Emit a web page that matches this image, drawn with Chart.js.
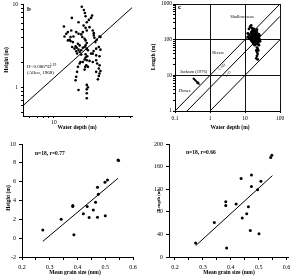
<!DOCTYPE html>
<html>
<head>
<meta charset="utf-8">
<script src="https://cdn.jsdelivr.net/npm/chart.js@4.4.1/dist/chart.umd.min.js"></script>
<style>
  html, body { margin: 0; padding: 0; background: #fff; }
  #wrap { position: relative; width: 294px; height: 277px; }
  canvas { position: absolute; }
</style>
</head>
<body>
<div id="wrap">
  <canvas id="panelB" width="147" height="140" style="left:0;top:0"></canvas>
  <canvas id="panelC" width="147" height="140" style="left:147px;top:0"></canvas>
  <canvas id="panelHeight" width="147" height="137" style="left:0;top:140px"></canvas>
  <canvas id="panelLength" width="147" height="137" style="left:147px;top:140px"></canvas>
</div>
<script>
// panel b : dune height vs water depth (log-log)
const bDepth = [18.0,18.8,19.2,19.5,22.4,21.9,20.9,20.0,14.6,16.8,
  18.7,19.5,21.2,12.35,20.0,18.4,17.8,14.4,13.43,16.0,
  16.8,22.7,23.2,12.97,12.5,14.2,15.1,13.9,13.43,18.2,
  19.1,19.5,20.0,23.2,23.5,24.7,24.0,26.2,26.7,14.9,
  14.2,16.6,17.2,15.8,16.2,15.45,14.7,16.8,17.8,17.2,
  18.4,19.1,19.5,20.0,20.5,16.0,16.3,17.8,19.5,20.2,
  21.9,23.1,24.4,25.8,26.7,22.7,24.4,26.2,19.5,19.1,
  18.4,20.0,21.2,17.5,17.2,19.8,20.5,22.7,24.4,24.9,
  26.2,25.8,26.7,26.2,25.8,25.3,24.4,16.6,16.3,16.0,
  15.8,19.35,19.1,20.0,20.5,20.0,20.0,20.0,16.8];
const bHeight = [9.46,8.63,7.94,7.24,7.38,6.92,6.55,6.14,6.92,6.14,
  5.6,5.25,5.35,5.45,4.88,4.66,4.37,4.88,4.66,4.66,
  4.45,4.88,4.53,4.45,4.13,4.06,4.13,3.77,3.70,4.06,
  3.87,3.70,3.44,4.25,3.98,3.77,3.53,4.13,4.06,3.53,
  3.63,3.37,3.22,3.13,3.02,2.94,3.08,2.86,2.81,2.68,
  3.02,3.08,3.22,2.94,2.81,2.73,2.56,2.49,2.51,2.38,
  2.56,2.75,2.94,3.08,2.86,2.56,2.44,2.38,2.29,2.17,
  2.03,2.13,2.09,2.03,1.94,1.85,1.77,2.03,2.13,1.94,
  1.85,1.69,1.58,1.47,1.37,1.25,1.54,1.77,1.54,1.34,
  1.22,1.77,1.64,1.07,1.0,0.946,0.847,0.738,0.929];
const allenDepth = [5.2, 52];
const allenHeight = [0.6, 9.2];
const bDepthTicks = [6, 7, 8, 9, 10, 20, 30, 40, 50];
const bDepthLabels = [10];
const bHeightTicks = [0.5, 0.6, 0.7, 0.8, 0.9, 1, 2, 3, 4, 5, 6, 7, 8, 9, 10];
const bHeightLabels = [1, 10];

// panel c : bedform length vs water depth
const shallowDepth = [13,14,15,16,17,18,15,16,13,14,
  15,16,17,18,19,20,21,22,14,15,
  16,17,18,19,20,21,22,23,24,25,
  26,24,23,22,21,20,19,18,17,16,
  19,20,21,22,18,17,16,19,18,17,
  20,21,23,24,25,22,23,21,22,23,
  22,21,23,24,12,12,13,26,25,27,
  20,18,22];
const shallowLength = [200,230,250,210,190,170,160,150,140,130,
  120,110,100,95,90,85,80,75,105,95,
  88,80,75,70,110,120,130,140,120,110,
  100,95,88,100,105,130,140,150,160,175,
  160,150,145,160,120,130,135,110,105,115,
  95,92,110,80,70,60,55,50,45,40,
  35,30,28,50,150,120,110,130,140,90,
  180,200,190];
const upperLineDepth = [0.1, 100], upperLineLength = [1, 1000];
const midLineDepth = [0.22, 100], midLineLength = [1, 450];
const lowerLineDepth = [1, 100], lowerLineLength = [1, 100];
const cDepthTicks = [0.1, 1, 10, 100];
const cLengthTicks = [1,2,3,4,5,6,7,8,9,10,20,30,40,50,60,70,80,90,100,200,300,400,500,600,700,800,900,1000];
const cLengthLabels = [1, 10, 100, 1000];

// bottom panels : height / length vs mean grain size
const hGrain = [0.275,0.341,0.383,0.383,0.387,0.421,0.435,0.442,0.457,0.465,0.472,0.475,0.472,0.500,0.499,0.508,0.546,0.548];
const hHeight = [0.86,2.0,3.47,3.36,0.36,2.59,3.36,2.2,2.98,3.82,5.41,4.67,2.23,2.38,5.94,6.19,8.31,8.24];
const hFitGrain = [0.275, 0.546], hFitHeight = [-0.34, 6.36];
const lGrain = [0.274,0.341,0.382,0.382,0.385,0.419,0.437,0.441,0.457,0.463,0.474,0.474,0.470,0.501,0.496,0.508,0.543,0.547];
const lLength = [24.7,61,98,91,16,94,139,69,76.5,89,145,125,47,41,119,134,176,180];
const lFitGrain = [0.274, 0.549], lFitLength = [20, 144];
const grainTicks = [0.2,0.25,0.3,0.35,0.4,0.45,0.5,0.55,0.6];
const grainLabels = [0.2,0.3,0.4,0.5,0.6];
const heightTicks = [-2,0,2,4,6,8,10];
const lengthTicks = [0,40,80,120,160,200];

const serif = "'Liberation Serif', 'Times New Roman', serif";
const pts = (xs, ys) => xs.map((x, i) => ({ x: x, y: ys[i] }));

// draws the free text, axis titles and arrow on top of a chart
const notes = {
  id: 'notes',
  afterDraw(chart, args, opts) {
    const ctx = chart.ctx;
    (opts.items || []).forEach(t => {
      ctx.save();
      ctx.fillStyle = '#000';
      ctx.strokeStyle = '#000';
      if (t.arrow) {
        const [x0, y0, x1, y1] = t.arrow;
        const a = Math.atan2(y1 - y0, x1 - x0);
        ctx.lineWidth = 1.8;
        ctx.beginPath();
        ctx.moveTo(x0, y0);
        ctx.lineTo(x1 - 3 * Math.cos(a), y1 - 3 * Math.sin(a));
        ctx.stroke();
        ctx.beginPath();
        ctx.moveTo(x1, y1);
        ctx.lineTo(x1 - 4 * Math.cos(a - 0.5), y1 - 4 * Math.sin(a - 0.5));
        ctx.lineTo(x1 - 4 * Math.cos(a + 0.5), y1 - 4 * Math.sin(a + 0.5));
        ctx.closePath();
        ctx.fill();
      } else {
        ctx.font = t.font;
        ctx.textAlign = t.align || 'left';
        ctx.textBaseline = 'middle';
        ctx.translate(t.x, t.y);
        if (t.rot) ctx.rotate(t.rot);
        ctx.fillText(t.text, 0, 0);
      }
      ctx.restore();
    });
  }
};

function axis(o) {
  return {
    type: o.type || 'linear',
    min: o.min,
    max: o.max,
    afterBuildTicks: s => { s.ticks = o.ticks.map(v => ({ value: v })); },
    afterFit: s => {
      if (o.width !== undefined) { s.width = o.width; s.paddingTop = 0; s.paddingBottom = 0; }
      if (o.height !== undefined) { s.height = o.height; s.paddingLeft = 0; s.paddingRight = 0; }
    },
    border: { display: true, color: '#000', width: 1 },
    grid: {
      drawOnChartArea: !!o.gridAt,
      color: o.gridAt ? (c => (c.tick && o.gridAt.includes(c.tick.value)) ? '#111' : 'rgba(0,0,0,0)') : '#000',
      tickColor: '#000',
      tickLength: o.tickLength || 3,
      lineWidth: 1
    },
    ticks: {
      font: { family: serif, size: o.fontSize || 6 },
      color: '#000',
      padding: o.pad,
      autoSkip: false,
      maxRotation: 0,
      minRotation: 0,
      callback: v => o.labels.includes(v) ? (o.fmt ? o.fmt(v) : String(v)) : ''
    }
  };
}

function dots(data, r) {
  return { data: data, showLine: false, pointRadius: r, pointBackgroundColor: '#000', pointBorderWidth: 0 };
}
function rule(data) {
  return { data: data, showLine: true, borderColor: '#000', borderWidth: 1, pointRadius: 0 };
}

function panel(id, datasets, scales, padding, items) {
  return new Chart(document.getElementById(id), {
    type: 'scatter',
    data: { datasets: datasets },
    options: {
      responsive: false,
      animation: false,
      devicePixelRatio: 1,
      layout: { padding: padding },
      plugins: { legend: { display: false }, tooltip: { enabled: false }, notes: { items: items } },
      scales: scales
    },
    plugins: [notes]
  });
}

panel('panelB',
  [dots(pts(bDepth, bHeight), 1.3), rule(pts(allenDepth, allenHeight))],
  {
    x: axis({ type: 'logarithmic', min: 5.2, max: 52, ticks: bDepthTicks, labels: bDepthLabels, height: 24, tickLength: 2, pad: 1, fontSize: 5.5 }),
    y: axis({ type: 'logarithmic', min: 0.45, max: 10.2, ticks: bHeightTicks, labels: bHeightLabels, width: 23, tickLength: 2, pad: 3, fontSize: 5.5 })
  },
  { left: 0, right: 15, top: 3, bottom: 0 },
  [
    { text: 'b', x: 27, y: 9, font: 'bold 7px ' + serif },
    { text: 'H=0.086*D', x: 27, y: 67, font: '5px ' + serif },
    { text: '1.19', x: 50, y: 65, font: '3.5px ' + serif },
    { text: '(Allen, 1968)', x: 27, y: 73, font: '5px ' + serif },
    { text: 'Height (m)', x: 7, y: 60, rot: -Math.PI / 2, align: 'center', font: 'bold 5.5px ' + serif },
    { text: 'Water depth (m)', x: 77, y: 128, align: 'center', font: 'bold 5.5px ' + serif }
  ]);

panel('panelC',
  [rule(pts(upperLineDepth, upperLineLength)), rule(pts(midLineDepth, midLineLength)),
   rule(pts(lowerLineDepth, lowerLineLength)), dots(pts(shallowDepth, shallowLength), 1.4)],
  {
    x: axis({ type: 'logarithmic', min: 0.1, max: 100, ticks: cDepthTicks, labels: cDepthTicks, gridAt: cDepthTicks, height: 29, tickLength: 2, pad: 2, fontSize: 5.5 }),
    y: axis({ type: 'logarithmic', min: 1, max: 1000, ticks: cLengthTicks, labels: cLengthLabels, gridAt: cLengthLabels, width: 28, tickLength: 2, pad: 1, fontSize: 5.5 })
  },
  { left: 0, right: 14, top: 3, bottom: 0 },
  [
    { text: 'c', x: 31, y: 7, font: 'bold 7px ' + serif },
    { text: 'Shallow seas', x: 95, y: 17, align: 'center', font: '4.5px ' + serif },
    { text: 'Rivers', x: 71, y: 53, align: 'center', font: '4.5px ' + serif },
    { text: 'Jackson (1976)', x: 33, y: 72, font: '4.5px ' + serif },
    { text: 'Dunes', x: 32, y: 91, font: '4.5px ' + serif },
    { text: 'L=6D', x: 75, y: 67, rot: -Math.PI / 4, align: 'center', font: '3.5px ' + serif },
    { text: 'L=D', x: 81, y: 74, rot: -Math.PI / 4, align: 'center', font: '3.5px ' + serif },
    { arrow: [46, 78, 53, 85] },
    { text: 'Length (m)', x: 7, y: 57, rot: -Math.PI / 2, align: 'center', font: 'bold 5.5px ' + serif },
    { text: 'Water depth (m)', x: 83, y: 128, align: 'center', font: 'bold 5.5px ' + serif }
  ]);

panel('panelHeight',
  [dots(pts(hGrain, hHeight), 1.5), rule(pts(hFitGrain, hFitHeight))],
  {
    x: axis({ min: 0.2, max: 0.6, ticks: grainTicks, labels: grainLabels, fmt: v => v.toFixed(1), height: 20, tickLength: 3, pad: 4 }),
    y: axis({ min: -2, max: 10, ticks: heightTicks, labels: heightTicks, width: 22, tickLength: 3, pad: 3 })
  },
  { left: 0, right: 14, top: 4, bottom: 0 },
  [
    { text: 'n=18, r=0.77', x: 35, y: 14, font: 'bold 5.5px ' + serif },
    { text: 'Height (m)', x: 9, y: 58, rot: -Math.PI / 2, align: 'center', font: 'bold 5.5px ' + serif },
    { text: 'Mean grain size (mm)', x: 75, y: 133, align: 'center', font: 'bold 5.5px ' + serif }
  ]);

panel('panelLength',
  [dots(pts(lGrain, lLength), 1.5), rule(pts(lFitGrain, lFitLength))],
  {
    x: axis({ min: 0.1785, max: 0.605, ticks: grainTicks, labels: grainLabels, fmt: v => v.toFixed(1), height: 20, tickLength: 3, pad: 4 }),
    y: axis({ min: 0, max: 200, ticks: lengthTicks, labels: lengthTicks, width: 22, tickLength: 3, pad: 3 })
  },
  { left: 0, right: 6, top: 3, bottom: 0 },
  [
    { text: 'n=18, r=0.66', x: 39, y: 13, font: 'bold 5.5px ' + serif },
    { text: 'Length (m)', x: 12, y: 60, rot: -Math.PI / 2, align: 'center', font: 'bold 4.6px ' + serif },
    { text: 'Mean grain size (mm)', x: 82, y: 133, align: 'center', font: 'bold 5.5px ' + serif }
  ]);
</script>
</body>
</html>
